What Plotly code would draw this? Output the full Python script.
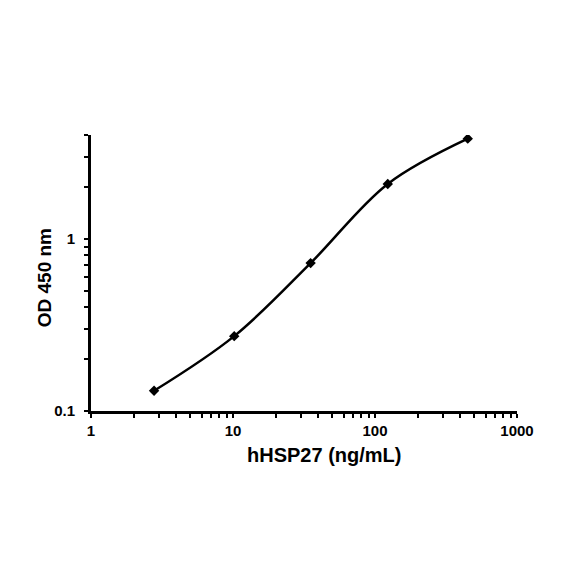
import math
import plotly.graph_objects as go

conc = [2.78, 10.2, 35.2, 123, 450]
od = [0.131, 0.272, 0.722, 2.08, 3.81]

x_ticks = [1, 10, 100, 1000]
x_minor = [m * d for d in [1, 10, 100] for m in range(2, 10)]
y_ticks = [0.1, 1]
y_minor = [m * 0.1 for m in range(2, 10)] + [2, 3, 4]

x_title = "hHSP27 (ng/mL)"
y_title = "OD 450 nm"

def fmt(v):
    return "%g" % v

xvals = sorted(x_ticks + x_minor)
xtext = ["<b>%s</b>" % fmt(v) if v in x_ticks else "" for v in xvals]
yvals = sorted(y_ticks + y_minor)
ytext = ["<b>%s</b>" % fmt(v) if v in y_ticks else "" for v in yvals]

fig = go.Figure()
fig.add_trace(go.Scatter(
    x=conc, y=od, mode="lines+markers",
    line=dict(color="black", width=2.5, shape="spline", smoothing=1.0),
    marker=dict(symbol="diamond", size=8, color="black"),
    showlegend=False, hoverinfo="skip",
))

font = "Liberation Sans, Arial, sans-serif"
fig.update_layout(
    width=568, height=568,
    margin=dict(l=83, r=59, t=127, b=165),
    paper_bgcolor="white", plot_bgcolor="white",
    font=dict(family=font, color="black", size=15),
    xaxis=dict(
        type="log", range=[0, 3], showgrid=False, zeroline=False,
        showline=True, linecolor="black", linewidth=3,
        tickmode="array", tickvals=xvals, ticktext=xtext,
        ticks="outside", ticklen=4, tickwidth=2, tickcolor="black",
        tickfont=dict(size=15, family=font),
    ),
    yaxis=dict(
        type="log", range=[-1, math.log10(4)], showgrid=False, zeroline=False,
        showline=True, linecolor="black", linewidth=3,
        tickmode="array", tickvals=yvals, ticktext=ytext,
        ticks="outside", ticklen=4, tickwidth=2, tickcolor="black",
        tickfont=dict(size=15, family=font),
        ticklabelstandoff=6,
    ),
    annotations=[
        dict(text="<b>%s</b>" % x_title, xref="paper", yref="paper",
             x=0.547, y=0, xanchor="center", yanchor="middle", yshift=-44,
             showarrow=False, font=dict(size=20, family=font)),
        dict(text="<b>%s</b>" % y_title, xref="paper", yref="paper",
             x=0, y=0.481, xanchor="center", yanchor="middle", xshift=-47,
             textangle=-90, showarrow=False, font=dict(size=19, family=font)),
    ],
)

fig.write_html("out.html")
